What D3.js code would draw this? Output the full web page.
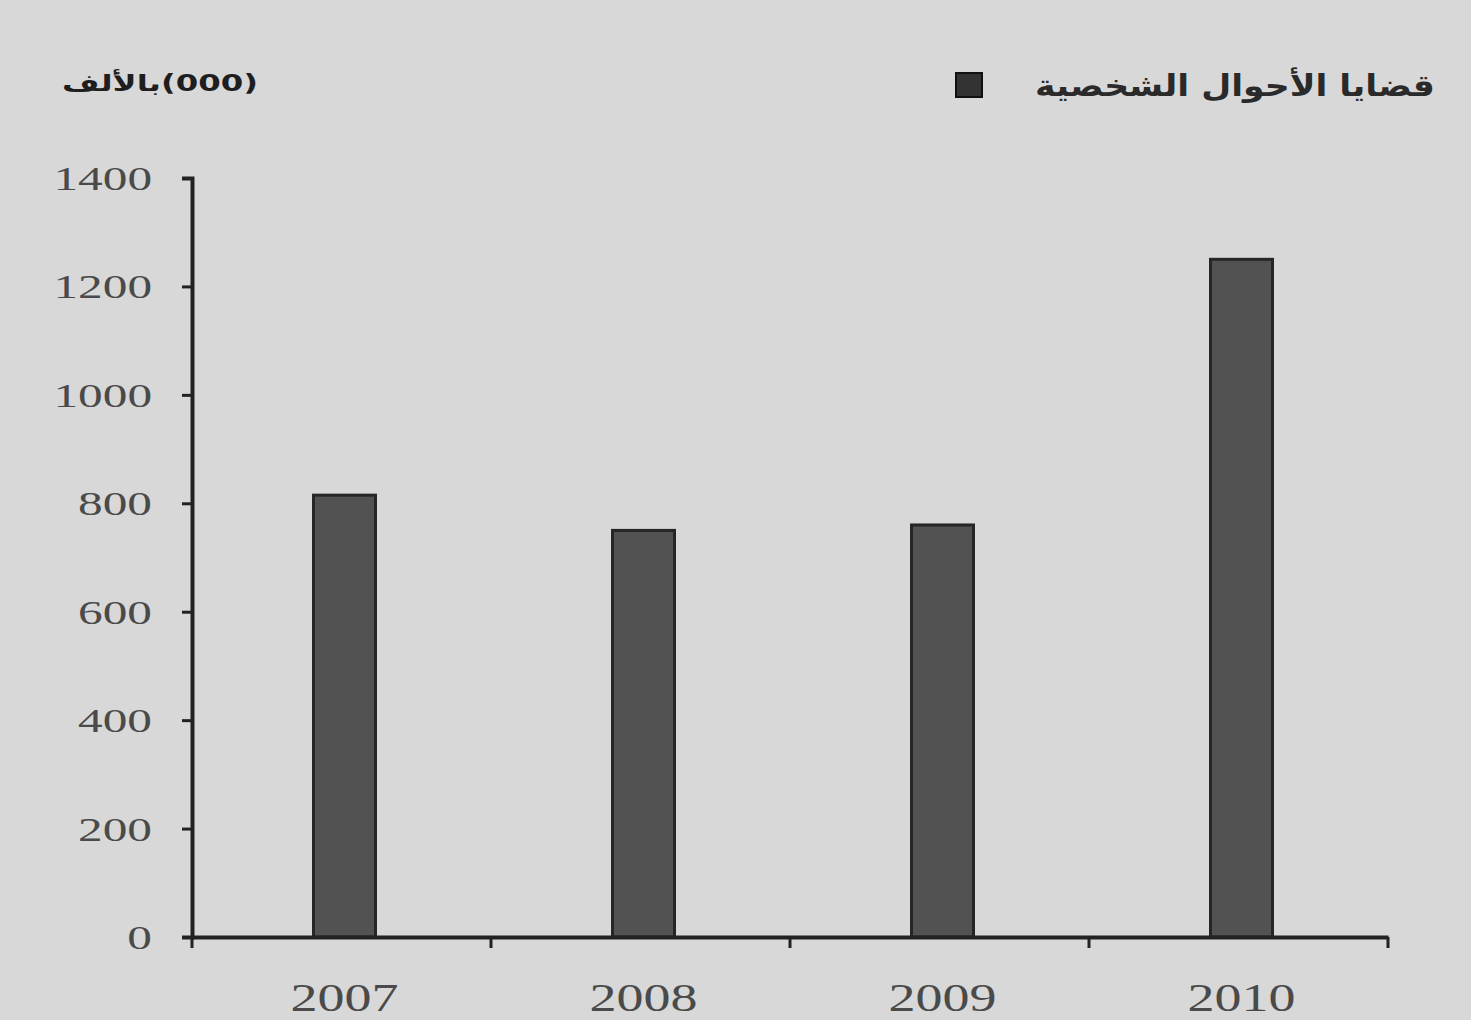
<!DOCTYPE html>
<html><head><meta charset="utf-8">
<script src="https://cdn.jsdelivr.net/npm/d3@7"></script>
<style>
html,body{margin:0;padding:0;background:#d8d8d8;}
svg{display:block;}
</style></head>
<body>
<svg id="chart" width="1471" height="1020"></svg>
<script>
const categories = ["2007","2008","2009","2010"];
const values = [815, 750, 760, 1250];
const yTicks = [0,200,400,600,800,1000,1200,1400];
const seriesName = "قضايا الأحوال الشخصية";
const yUnitLabel = "(000)بالألف";

(function(){
const svg = d3.select("#chart");
svg.append("rect").attr("width",1471).attr("height",1020).attr("fill","#d8d8d8");

const mLeft = 192, mRight = 1388, mTop = 178, mBottom = 937;
const x = d3.scaleBand().domain(categories).range([mLeft, mRight]).paddingInner(0).paddingOuter(0);
const y = d3.scaleLinear().domain([0,1400]).range([mBottom, mTop]);
const barW = 62;

svg.append("g").selectAll("rect").data(categories).join("rect")
  .attr("x", (d)=> x(d) + x.bandwidth()/2 - barW/2 + 3)
  .attr("y", (d,i)=> y(values[i]))
  .attr("width", barW)
  .attr("height", (d,i)=> mBottom - y(values[i]))
  .attr("fill", "#525252")
  .attr("stroke", "#262626")
  .attr("stroke-width", 3);

// y axis
const sx = 1.45;
const yAxis = d3.axisLeft(y).tickValues(yTicks).tickSize(10).tickFormat(d3.format("d"));
const gy = svg.append("g").attr("transform", `translate(${mLeft},0)`).call(yAxis);
gy.select(".domain").attr("stroke","#222").attr("stroke-width",4);
gy.selectAll(".tick line").attr("stroke","#222").attr("stroke-width",3);
gy.selectAll(".tick text").attr("fill","#4a4a4a").attr("font-family","Liberation Serif")
  .attr("font-size",34).attr("x", -40/sx).attr("dy","0.34em")
  .attr("transform", `scale(${sx},1)`);

// x axis
const xAxis = d3.axisBottom(x).tickSize(0).tickPadding(0);
const gx = svg.append("g").attr("transform", `translate(0,${mBottom})`).call(xAxis);
gx.select(".domain").attr("stroke","#222").attr("stroke-width",4);
const xsx = 1.35;
gx.selectAll(".tick text").attr("fill","#4a4a4a").attr("font-family","Liberation Serif")
  .attr("font-size",40).attr("dy","0").attr("y",74).attr("x", 3/xsx)
  .attr("transform",`scale(${xsx},1)`);
const bounds = categories.map(d=>x(d)).concat([mRight]);
gx.selectAll(".bt").data(bounds).join("line").attr("class","bt")
  .attr("x1",d=>d).attr("x2",d=>d).attr("y1",0).attr("y2",11)
  .attr("stroke","#222").attr("stroke-width",3);

// legend
svg.append("rect").attr("x",956).attr("y",73).attr("width",26).attr("height",24)
  .attr("fill","#333").attr("stroke","#111").attr("stroke-width",2);
svg.append("text").attr("x",1435).attr("y",96).attr("text-anchor","start")
  .attr("direction","rtl").attr("font-family","DejaVu Sans").attr("font-size",30)
  .attr("font-weight","bold").attr("fill","#2a2a2a")
  .attr("textLength",400).attr("lengthAdjust","spacingAndGlyphs").text(seriesName);

// unit label
svg.append("text").attr("x",258).attr("y",91).attr("text-anchor","start")
  .attr("direction","rtl").attr("font-family","DejaVu Sans").attr("font-size",23)
  .attr("font-weight","bold").attr("fill","#1e1e1e")
  .attr("textLength",196).attr("lengthAdjust","spacingAndGlyphs").text(yUnitLabel);
})();
</script>
</body></html>
